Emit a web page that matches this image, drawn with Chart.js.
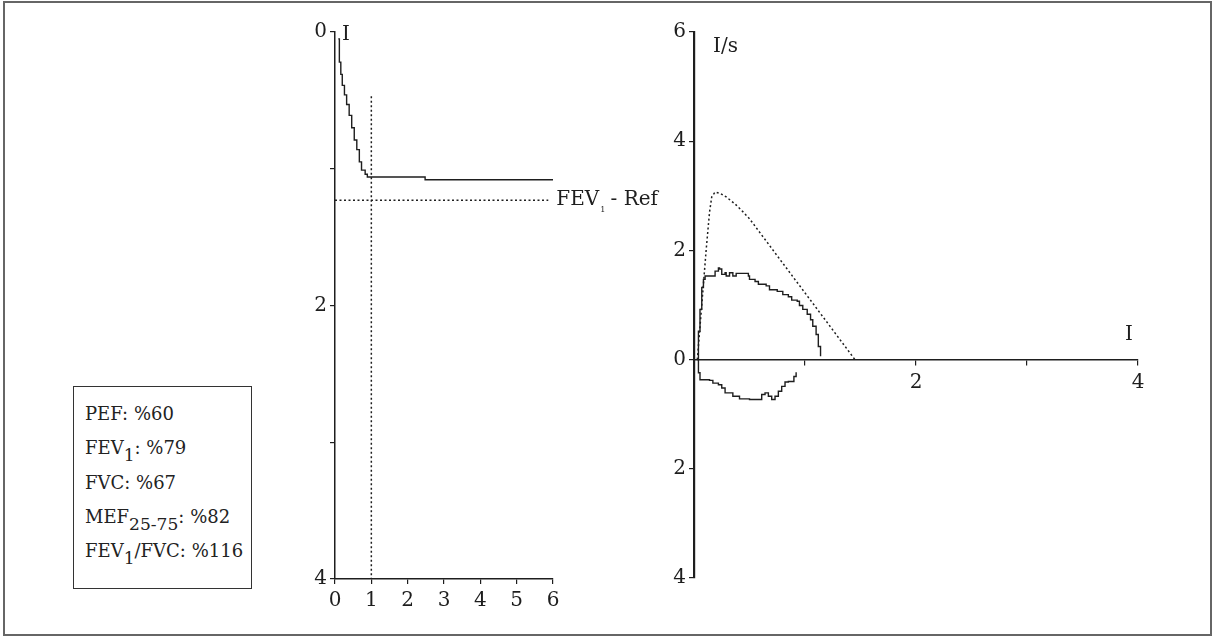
<!DOCTYPE html>
<html>
<head>
<meta charset="utf-8">
<script src="https://cdn.jsdelivr.net/npm/chart.js@4.4.1/dist/chart.umd.min.js"></script>
<style>
	body { margin: 0; background: #fff; font-family: "DejaVu Serif", serif; color: #222; }
	#frame { position: absolute; left: 3px; top: 1px; width: 1205px; height: 631px; border: 2px solid #666; }
	#cvLeft { position: absolute; left: 280px; top: 10px; }
	#cvRight { position: absolute; left: 640px; top: 10px; }
	#results { position: absolute; left: 73px; top: 386px; width: 177px; height: 191px; border: 1px solid #333;
		padding-top: 10px; box-sizing: content-box; font-size: 18px; line-height: 34.3px; }
	#results div { padding-left: 11px; white-space: nowrap; }
	.sb { position: relative; top: 0.42em; font-size: 0.95em; line-height: 0; }
</style>
</head>
<body>
<div id="frame"></div>
<canvas id="cvLeft" width="380" height="620"></canvas>
<canvas id="cvRight" width="560" height="620"></canvas>
<div id="results">
	<div>PEF: %60</div>
	<div>FEV<span class="sb">1</span>: %79</div>
	<div>FVC: %67</div>
	<div>MEF<span class="sb">25-75</span>: %82</div>
	<div>FEV<span class="sb">1</span>/FVC: %116</div>
</div>
<script>

// Volume-time curve (s, l)
var vtTime   = [0.09, 0.12, 0.16, 0.20, 0.26, 0.32, 0.39, 0.46, 0.53, 0.60, 0.67, 0.73, 0.83, 0.89, 2.48, 6.00];
var vtVolume = [0.05, 0.22, 0.31, 0.39, 0.46, 0.53, 0.61, 0.70, 0.79, 0.86, 0.95, 1.01, 1.04, 1.06, 1.08, 1.08];

// FEV1 reference and 1 s marker
var fev1Ref = 1.23;
var refLineEnd = 5.87;
var oneSecond = 1;
var oneSecondTop = 0.47;

// Flow-volume loop, expiratory part (l, l/s)
var expVolume = [0.03, 0.04, 0.054, 0.07, 0.085, 0.10, 0.17, 0.19, 0.22, 0.23, 0.25, 0.28, 0.29, 0.32, 0.35, 0.38, 0.46, 0.49, 0.50, 0.55, 0.58, 0.65, 0.68, 0.75, 0.80, 0.85, 0.88, 0.93, 0.95, 0.98, 1.02, 1.05, 1.07, 1.10, 1.12, 1.14];
var expFlow   = [0.00, 0.52, 0.92, 1.32, 1.47, 1.53, 1.53, 1.62, 1.68, 1.66, 1.56, 1.59, 1.53, 1.59, 1.53, 1.58, 1.58, 1.53, 1.47, 1.43, 1.38, 1.35, 1.28, 1.25, 1.19, 1.15, 1.09, 1.07, 0.99, 0.92, 0.83, 0.73, 0.61, 0.46, 0.24, 0.06];

// Flow-volume loop, inspiratory part
var inspVolume = [0.03, 0.04, 0.054, 0.14, 0.17, 0.22, 0.25, 0.28, 0.34, 0.35, 0.41, 0.49, 0.50, 0.58, 0.61, 0.64, 0.67, 0.70, 0.73, 0.76, 0.79, 0.82, 0.85, 0.89, 0.90, 0.92];
var inspFlow   = [0.00, -0.24, -0.37, -0.38, -0.43, -0.46, -0.52, -0.61, -0.61, -0.67, -0.72, -0.72, -0.73, -0.73, -0.64, -0.61, -0.67, -0.73, -0.67, -0.58, -0.49, -0.41, -0.40, -0.40, -0.31, -0.23];

// Predicted flow-volume curve
var predVolume = [0.03, 0.07, 0.11, 0.14, 0.16, 0.19, 0.24, 0.29, 0.37, 0.44, 0.50, 1.45];
var predFlow   = [0.00, 1.00, 2.02, 2.70, 2.98, 3.07, 3.04, 2.98, 2.85, 2.71, 2.58, 0.00];

var ink = '#1e1e1e';
var tickFont = { family: 'DejaVu Serif', size: 20 };

function toPoints(xs, ys){
	var pts = [];
	for (var i = 0; i < xs.length; i++) {
		pts.push({ x: xs[i], y: ys[i] });
	};
	return pts;
};

function lineSet(pts, dashed, stepped){
	return {
		data: pts,
		showLine: true,
		borderColor: ink,
		borderWidth: dashed ? 1.5 : 1.4,
		borderDash: dashed ? [2, 2.5] : [],
		pointRadius: 0,
		stepped: stepped,
		fill: false
	};
};

function axis(opts){
	var a = {
		type: 'linear',
		min: opts.min,
		max: opts.max,
		reverse: !!opts.reverse,
		ticks: { stepSize: opts.step, color: ink, font: tickFont, padding: opts.pad, callback: opts.label },
		grid: { display: true, drawOnChartArea: false, drawTicks: true, tickLength: 5, color: ink, lineWidth: 1.2 },
		border: { display: true, color: ink, width: opts.width }
	};
	if (opts.position) a.position = opts.position;
	if (opts.fit) a.afterFit = opts.fit;
	return a;
};

// text labels on the charts
var labelPlugin = {
	id: 'labels',
	afterDraw: function(chart){
		var ctx = chart.ctx;
		var xs = chart.scales.x, ys = chart.scales.y;
		ctx.save();
		ctx.fillStyle = ink;
		ctx.textBaseline = 'middle';
		ctx.font = '20px "DejaVu Serif"';
		if (chart.canvas.id == 'cvLeft') {
			ctx.fillText('I', xs.getPixelForValue(0) + 7, ys.getPixelForValue(0) + 3);
			var lx = xs.getPixelForValue(refLineEnd) + 8;
			var ly = ys.getPixelForValue(fev1Ref);
			ctx.font = '20px "DejaVu Serif"';
			ctx.fillText('FEV', lx, ly);
			var w = ctx.measureText('FEV').width;
			ctx.font = '8px "DejaVu Serif"';
			ctx.fillText('1', lx + w + 1, ly + 10);
			ctx.font = '20px "DejaVu Serif"';
			ctx.fillText(' - Ref', lx + w + 5, ly);
		} else {
			ctx.fillText('I/s', xs.getPixelForValue(0) + 19, ys.getPixelForValue(5.72));
			ctx.fillText('I', xs.getPixelForValue(3.91) - 3, ys.getPixelForValue(0.46));
		};
		ctx.restore();
	}
};

function initLeft(){
	var ctx = document.getElementById('cvLeft');
	new Chart(ctx, {
		type: 'scatter',
		data: {
			datasets: [
				lineSet(toPoints(vtTime, vtVolume), false, true),
				lineSet([{ x: 0, y: fev1Ref }, { x: refLineEnd, y: fev1Ref }], true, false),
				lineSet([{ x: oneSecond, y: oneSecondTop }, { x: oneSecond, y: 4 }], true, false)
			]
		},
		options: {
			responsive: false,
			animation: false,
			devicePixelRatio: 1,
			layout: { padding: { left: 15, right: 107, top: 22, bottom: 11 } },
			plugins: { legend: { display: false }, tooltip: { enabled: false } },
			scales: {
				x: axis({ min: 0, max: 6, step: 1, pad: 5, width: 1.5,
					fit: function(s){ s.height = 40; } }),
				y: axis({ min: 0, max: 4, step: 1, reverse: true, pad: 3, width: 1.5,
					label: function(v){ return v % 2 == 0 ? v : ''; },
					fit: function(s){ s.width = 40; } })
			}
		},
		plugins: [labelPlugin]
	});
};

function initRight(){
	var ctx = document.getElementById('cvRight');
	new Chart(ctx, {
		type: 'scatter',
		data: {
			datasets: [
				lineSet(toPoints(predVolume, predFlow), true, false),
				lineSet(toPoints(expVolume, expFlow), false, true),
				lineSet(toPoints(inspVolume, inspFlow), false, true)
			]
		},
		options: {
			responsive: false,
			animation: false,
			devicePixelRatio: 1,
			layout: { padding: { left: 0, right: 62, top: 22, bottom: 52 } },
			plugins: { legend: { display: false }, tooltip: { enabled: false } },
			scales: {
				x: axis({ min: 0, max: 4, step: 1, pad: 6, width: 1.5, position: { y: 0 },
					label: function(v){ return (v == 2 || v == 4) ? v : ''; } }),
				y: axis({ min: -4, max: 6, step: 2, pad: 3, width: 2.2, position: 'left',
					label: function(v){ return Math.abs(v); },
					fit: function(s){ s.width = 54; } })
			}
		},
		plugins: [labelPlugin]
	});
};

initLeft();
initRight();
</script>
</body>
</html>
